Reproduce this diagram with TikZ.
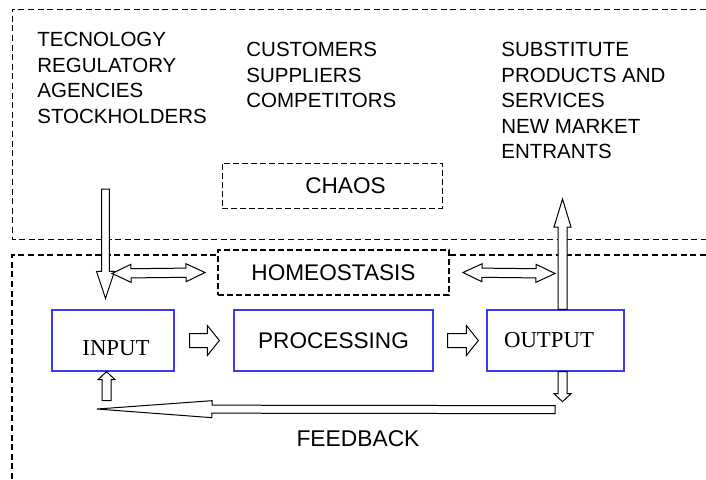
\documentclass[tikz,border=0pt]{standalone}
\usepackage{fontspec}
\setmainfont{Liberation Serif}
\setsansfont{Liberation Sans}
\usetikzlibrary{calc,positioning}
\definecolor{ink}{HTML}{000000}
\definecolor{boxblue}{HTML}{3A3AF4}
\tikzset{
  region/.style={draw=ink,line width=.5pt,dash pattern=on 3pt off 1.8pt},
  regionb/.style={region,line width=.75pt},
  dbox/.style={draw=ink,line width=.5pt,dash pattern=on 3pt off 1.5pt,inner sep=0pt,
    font=\sffamily\fontsize{11.3pt}{13pt}\selectfont},
  dboxb/.style={dbox,line width=.75pt,fill=white},
  sysbox/.style={draw=boxblue,line width=.65pt,fill=white,inner sep=0pt,minimum height=30.5pt},
  sansbox/.style={sysbox,font=\sffamily\fontsize{11.3pt}{13pt}\selectfont},
  serifbox/.style={sysbox,font=\rmfamily\fontsize{11.4pt}{13pt}\selectfont},
  envtxt/.style={align=left,anchor=north west,inner sep=0pt,
    font=\sffamily\fontsize{10.25pt}{12.75pt}\selectfont},
  plain/.style={inner sep=0pt,font=\sffamily\fontsize{11.4pt}{13pt}\selectfont},
  hollow/.style={draw=ink,line width=.5pt,fill=white,line join=miter},
}
% hollow block arrow: from, to, shaft half width, head half width, head length
\newcommand{\hollowarrow}[5]{%
  \coordinate (ha) at (#1); \coordinate (hb) at (#2);
  \coordinate (hh) at ($(hb)!#5!(ha)$);
  \draw[hollow] ($(ha)!#3!90:(hb)$) -- ($(hh)!#3!90:(hb)$) -- ($(hh)!#4!90:(hb)$) -- (hb)
    -- ($(hh)!#4!-90:(hb)$) -- ($(hh)!#3!-90:(hb)$) -- ($(ha)!#3!-90:(hb)$) -- cycle;}
\newcommand{\hollowdouble}[5]{%
  \coordinate (ha) at (#1); \coordinate (hb) at (#2);
  \coordinate (hh) at ($(hb)!#5!(ha)$); \coordinate (hg) at ($(ha)!#5!(hb)$);
  \draw[hollow] (ha) -- ($(hg)!#4!90:(hb)$) -- ($(hg)!#3!90:(hb)$) -- ($(hh)!#3!90:(hb)$)
    -- ($(hh)!#4!90:(hb)$) -- (hb) -- ($(hh)!#4!-90:(hb)$) -- ($(hh)!#3!-90:(hb)$)
    -- ($(hg)!#3!-90:(hb)$) -- ($(hg)!#4!-90:(hb)$) -- cycle;}
\begin{document}
\begin{tikzpicture}[x=.5pt,y=-.5pt]
  \useasboundingbox (0,0) rectangle (706,479);
  \draw[region] (706,9) -- (12,9) -- (12,239) -- (706,239);
  \draw[regionb] (706,255) -- (12,255) -- (12,479);
  \node[envtxt] (tec) at (37,32) {TECNOLOGY\\REGULATORY\\AGENCIES\\STOCKHOLDERS};
  \node[envtxt] (cus) at (246,42) {CUSTOMERS\\SUPPLIERS\\COMPETITORS};
  \node[envtxt] (sub) at (501,42) {SUBSTITUTE\\PRODUCTS AND\\SERVICES\\NEW MARKET\\ENTRANTS};
  \node[dbox,minimum width=110pt,minimum height=22.5pt] (chaos) at (332,185.5) {\hspace*{13.5pt}CHAOS};
  \node[dboxb,minimum width=115.5pt,minimum height=22.5pt] (homeo) at (333.5,272.5) {HOMEOSTASIS};
  \node[serifbox,minimum width=61pt,text height=15pt,text depth=0pt] (in) at (113,340.5) {\hspace*{3pt}INPUT};
  \node[sansbox,minimum width=99.5pt] (proc) at (333.5,340.5) {PROCESSING};
  \node[serifbox,minimum width=68.5pt] (out) at (555.5,340.5) {OUTPUT\hspace*{6.5pt}};
  \node[plain] (fb) at (358,439) {FEEDBACK};
  \coordinate (envin) at (105.5,189);
  \coordinate (intop) at ($(in.north)+(-7.5,-11)$);
  \coordinate (envout) at (562.5,199);
  \coordinate (outtop) at ($(out.north)+(7,0)$);
  \coordinate (outbot) at ($(out.south)+(7,0)$);
  \coordinate (outdn) at ($(outbot)+(0,30)$);
  \coordinate (fbr) at ($(outbot)+(-7.5,38)$);
  \coordinate (fbl) at (97,409);
  \coordinate (inbot) at ($(in.south)+(-6.5,0)$);
  \coordinate (inup) at ($(inbot)+(0,29)$);
  \hollowarrow{envin}{intop}{1.9pt}{4.5pt}{13.5pt}
  \hollowarrow{outtop}{envout}{2.25pt}{4.25pt}{14pt}
  \hollowdouble{112,273.5}{homeo.west-|205,0}{2.3pt}{4.5pt}{9.5pt}
  \hollowdouble{homeo.east-|463,0}{555,273.5}{2.3pt}{4.5pt}{9.5pt}
  \hollowarrow{$(in.east)+(15,0)$}{$(proc.west)+(-14,0)$}{3.5pt}{7.5pt}{6pt}
  \hollowarrow{$(proc.east)+(14,0)$}{$(out.west)+(-8,0)$}{3.5pt}{7.5pt}{6pt}
  \hollowarrow{outbot}{outdn}{2.25pt}{4.25pt}{4pt}
  \hollowarrow{fbr}{fbl}{2pt}{4.25pt}{57.5pt}
  \hollowarrow{inup}{inbot}{2.25pt}{4.25pt}{4pt}
\end{tikzpicture}
\end{document}
